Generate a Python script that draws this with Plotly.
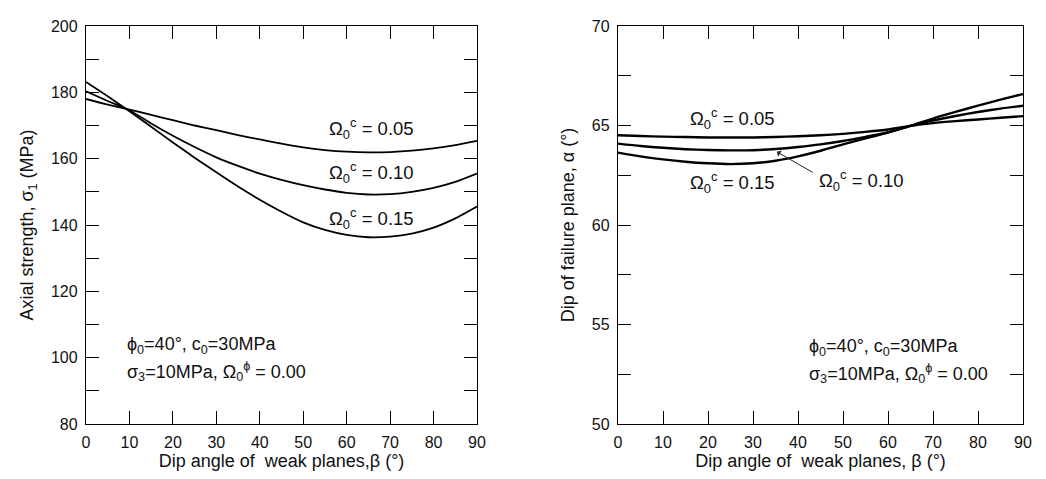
import plotly.graph_objects as go

beta = [0, 5, 10, 15, 20, 25, 30, 35, 40, 45, 50, 55, 60, 65, 70, 75, 80, 85, 90]

# Left panel: axial strength sigma1 (MPa)
s1_005 = [178.0, 176.3, 174.8, 173.2, 171.6, 170.0, 168.6, 167.1, 165.8, 164.5, 163.4, 162.6, 162.1, 161.9, 162.0, 162.4, 163.1, 164.1, 165.4]
s1_010 = [180.3, 177.4, 174.6, 170.6, 166.9, 163.5, 160.4, 157.8, 155.5, 153.6, 152.0, 150.7, 149.7, 149.2, 149.3, 150.0, 151.2, 153.0, 155.5]
s1_015 = [183.1, 178.8, 174.3, 169.6, 164.9, 160.3, 155.9, 151.6, 147.6, 144.0, 140.8, 138.5, 137.0, 136.3, 136.5, 137.4, 139.2, 142.0, 145.6]

# Right panel: dip of failure plane alpha (deg)
a_005 = [64.51, 64.47, 64.44, 64.42, 64.40, 64.40, 64.40, 64.42, 64.46, 64.51, 64.58, 64.68, 64.80, 64.98, 65.12, 65.22, 65.30, 65.39, 65.47]
a_010 = [64.09, 63.97, 63.88, 63.81, 63.77, 63.75, 63.76, 63.82, 63.92, 64.05, 64.22, 64.43, 64.65, 64.98, 65.25, 65.48, 65.68, 65.85, 65.99]
a_015 = [63.64, 63.45, 63.30, 63.18, 63.10, 63.06, 63.10, 63.23, 63.45, 63.73, 64.05, 64.35, 64.65, 64.98, 65.35, 65.68, 66.00, 66.30, 66.58]

labels = ["Ω<sub>0</sub><sup>c</sup> = 0.05", "Ω<sub>0</sub><sup>c</sup> = 0.10", "Ω<sub>0</sub><sup>c</sup> = 0.15"]
cond1 = "ϕ<sub>0</sub>=40°, c<sub>0</sub>=30MPa"
cond2 = "σ<sub>3</sub>=10MPa, Ω<sub>0</sub><sup>ϕ</sup> = 0.00"

FONT = "Liberation Sans, Arial, sans-serif"
W, H = 1030, 463  # page body has an 8px margin inside the 1046x479 window

fig = go.Figure()

line = dict(color="black", width=1.8, shape="spline", smoothing=0.6)
for ys in (s1_005, s1_010, s1_015):
    fig.add_trace(go.Scatter(x=beta, y=ys, mode="lines", line=line, xaxis="x", yaxis="y", showlegend=False))
line2 = dict(color="black", width=2.4, shape="spline", smoothing=0.6)
for ys in (a_005, a_010, a_015):
    fig.add_trace(go.Scatter(x=beta, y=ys, mode="lines", line=line2, xaxis="x2", yaxis="y2", showlegend=False))

TITLE_FONT = dict(family=FONT, size=18, color="#111")

def axis_common():
    return dict(showline=True, linecolor="black", linewidth=1.3, mirror="ticks",
                ticks="inside", ticklen=13, tickwidth=1, tickcolor="black",
                showgrid=False, zeroline=False, automargin=False, ticklabelstandoff=4,
                tickfont=dict(family=FONT, size=16, color="#111"))

ydom = [1 - 416 / H, 1 - 18 / H]
xa = axis_common(); xa.update(domain=[78 / W, 469 / W], range=[0, 90], dtick=10, tick0=0, anchor="y",
    title=dict(text="Dip angle of  weak planes,β (°)", font=TITLE_FONT, standoff=13))
ya = axis_common(); ya.update(domain=ydom, range=[80, 200], dtick=20, tick0=80, anchor="x",
    minor=dict(dtick=10, ticks="inside", ticklen=13, tickcolor="black", tickwidth=1),
    title=dict(text="Axial strength, σ<sub>1</sub> (MPa)", font=TITLE_FONT, standoff=12))
xa2 = axis_common(); xa2.update(domain=[610 / W, 1015 / W], range=[0, 90], dtick=10, tick0=0, anchor="y2",
    title=dict(text="Dip angle of  weak planes, β (°)", font=TITLE_FONT, standoff=13))
ya2 = axis_common(); ya2.update(domain=ydom, range=[50, 70], dtick=5, tick0=50, anchor="x2",
    minor=dict(dtick=2.5, ticks="inside", ticklen=13, tickcolor="black", tickwidth=1),
    title=dict(text="Dip of failure plane, α (°)", font=TITLE_FONT, standoff=12))

ann_font = dict(family=FONT, size=18.5, color="#111")
cond_font = dict(family=FONT, size=18, color="#111")
annotations = [
    dict(x=55.5, y=169.2, xref="x", yref="y", text=labels[0], showarrow=False, xanchor="left", font=ann_font),
    dict(x=55.5, y=155.7, xref="x", yref="y", text=labels[1], showarrow=False, xanchor="left", font=ann_font),
    dict(x=55.5, y=142.1, xref="x", yref="y", text=labels[2], showarrow=False, xanchor="left", font=ann_font),
    dict(x=9.0, y=103.8, xref="x", yref="y", text=cond1, showarrow=False, xanchor="left", font=cond_font),
    dict(x=9.0, y=95.7, xref="x", yref="y", text=cond2, showarrow=False, xanchor="left", font=cond_font),
    dict(x=15.6, y=65.37, xref="x2", yref="y2", text=labels[0], showarrow=False, xanchor="left", font=ann_font),
    dict(x=15.6, y=62.14, xref="x2", yref="y2", text=labels[2], showarrow=False, xanchor="left", font=ann_font),
    dict(x=44.2, y=62.24, xref="x2", yref="y2", text=labels[1], showarrow=False, xanchor="left", font=ann_font),
    dict(x=35.3, y=63.68, xref="x2", yref="y2", ax=43.6, ay=62.6, axref="x2", ayref="y2", text="",
         showarrow=True, arrowhead=1, arrowsize=1.2, arrowwidth=1, arrowcolor="#222"),
    dict(x=42.0, y=53.83, xref="x2", yref="y2", text=cond1, showarrow=False, xanchor="left", font=cond_font),
    dict(x=42.0, y=52.52, xref="x2", yref="y2", text=cond2, showarrow=False, xanchor="left", font=cond_font),
]

fig.update_layout(
    width=W, height=H,
    margin=dict(l=0, r=0, t=0, b=0),
    paper_bgcolor="white", plot_bgcolor="white",
    xaxis=xa, yaxis=ya, xaxis2=xa2, yaxis2=ya2,
    annotations=annotations,
    font=dict(family=FONT, color="#111"),
)

fig.write_html("out.html")
